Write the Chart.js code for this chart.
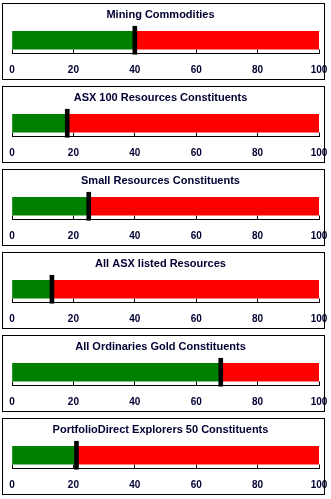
<!DOCTYPE html>
<html>
<head>
<meta charset="utf-8">
<script src="https://cdn.jsdelivr.net/npm/chart.js@4.4.1/dist/chart.umd.min.js"></script>
<style>
  html, body { margin: 0; padding: 0; background: #fff; overflow: hidden; }
  body { width: 331px; height: 499px; position: relative; }
  .panel { position: absolute; left: 2px; width: 323px; height: 77px; }
  .wrap { position: absolute; left: 0; top: 0; width: 332px; height: 77px; }
  .frame { position: absolute; left: 0; top: 0; width: 321px; height: 75px; border: 1px solid #000; pointer-events: none; }
</style>
</head>
<body>
<script>
// one gauge per index
const titles = [
    'Mining Commodities',
    'ASX 100 Resources Constituents',
    'Small Resources Constituents',
    'All ASX listed Resources',
    'All Ordinaries Gold Constituents',
    'PortfolioDirect Explorers 50 Constituents'
];
const values = [40, 18, 25, 13, 68, 21];
const axisMin = 0;
const axisMax = 100;
const tickStep = 20;

const fontFamily = '"Liberation Sans", Arial, sans-serif';
const textColor = '#000033';
const markerHalf = 0.65; // marker is ~4px wide

titles.forEach((title, i) => {
    const panel = document.createElement('div');
    panel.className = 'panel';
    panel.style.top = (3 + i * 83) + 'px';

    const wrap = document.createElement('div');
    wrap.className = 'wrap';
    const canvas = document.createElement('canvas');
    wrap.appendChild(canvas);
    panel.appendChild(wrap);

    const frame = document.createElement('div');
    frame.className = 'frame';
    panel.appendChild(frame);
    document.body.appendChild(panel);

    const v = values[i];

    new Chart(canvas.getContext('2d'), {
        type: 'bar',
        data: {
            labels: [title],
            datasets: [{
                data: [[v - markerHalf, v + markerHalf]],
                backgroundColor: '#000000',
                barThickness: 28,
                order: 0,
                clip: false
            }, {
                data: [[axisMin, v]],
                backgroundColor: '#008000',
                barThickness: 18,
                order: 1
            }, {
                data: [[v, axisMax]],
                backgroundColor: '#ff0000',
                barThickness: 18,
                order: 2
            }]
        },
        options: {
            indexAxis: 'y',
            responsive: true,
            maintainAspectRatio: false,
            animation: false,
            events: [],
            // title spans 0..317, so it sits a little left of the frame centre like the original
            layout: { padding: { left: 0, right: 15, top: 0, bottom: 3.5 } },
            datasets: { bar: { grouped: false, borderWidth: 0 } },
            plugins: {
                legend: { display: false },
                tooltip: { enabled: false },
                title: {
                    display: true,
                    text: title,
                    color: textColor,
                    font: { family: fontFamily, size: 11, weight: 'bold' },
                    padding: { top: 5.4, bottom: 5.4 }
                }
            },
            scales: {
                y: { display: false },
                x: {
                    min: axisMin,
                    max: axisMax,
                    border: { display: true, color: '#000', width: 1 },
                    grid: {
                        drawOnChartArea: false,
                        drawTicks: true,
                        tickLength: -4,   // ticks point up into the plot
                        color: '#000',
                        tickWidth: 1
                    },
                    ticks: {
                        stepSize: tickStep,
                        padding: 14.5,
                        color: textColor,
                        maxRotation: 0,
                        font: { family: fontFamily, size: 10, weight: 'bold' }
                    },
                    afterFit: scale => {
                        scale.paddingLeft = 10;
                        scale.paddingRight = 0;
                        scale.height = 23;
                    }
                }
            }
        }
    });
});
</script>
</body>
</html>
